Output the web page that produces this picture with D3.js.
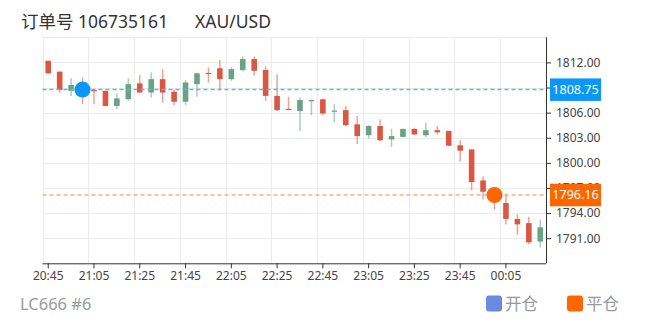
<!DOCTYPE html>
<html><head><meta charset="utf-8">
<script src="https://cdn.jsdelivr.net/npm/d3@7"></script>
<style>body{margin:0;background:#fff}svg{display:block}</style>
</head><body>
<svg id="c" width="652" height="325"></svg>
<script>
const categories = ["20:45","20:50","20:55","21:00","21:05","21:10","21:15","21:20","21:25","21:30","21:35","21:40","21:45","21:50","21:55","22:00","22:05","22:10","22:15","22:20","22:25","22:30","22:35","22:40","22:45","22:50","22:55","23:00","23:05","23:10","23:15","23:20","23:25","23:30","23:35","23:40","23:45","23:50","23:55","00:00","00:05","00:10","00:15","00:20"];
const opens  = [1812.2,1810.9,1808.6,1809.3,1808.7,1808.6,1806.8,1807.6,1809.5,1808.4,1810.0,1808.5,1807.3,1809.4,1810.75,1811.3,1810.0,1811.1,1812.4,1811.1,1808.0,1806.45,1806.2,1807.4,1807.6,1806.2,1806.3,1804.6,1803.3,1804.4,1802.8,1803.1,1804.05,1803.3,1803.9,1803.8,1802.1,1801.6,1797.9,1796.5,1795.2,1793.3,1792.8,1790.6];
const closes = [1810.7,1808.7,1809.3,1808.5,1808.55,1806.8,1807.7,1809.4,1808.4,1810.0,1808.4,1807.3,1809.6,1810.7,1810.65,1810.0,1811.2,1812.4,1811.0,1808.0,1806.3,1806.35,1807.5,1807.5,1805.9,1806.25,1804.5,1803.2,1804.4,1802.7,1803.2,1804.05,1803.4,1803.9,1803.65,1802.05,1801.45,1797.7,1796.55,1795.9,1793.3,1792.65,1790.5,1792.3];
const highs  = [1812.2,1810.9,1810.1,1810.2,1808.75,1808.65,1808.3,1810.1,1810.5,1810.8,1811.2,1808.8,1809.9,1810.75,1811.4,1812.3,1811.4,1812.7,1812.7,1811.5,1810.6,1807.9,1807.8,1807.6,1807.7,1807.0,1806.8,1805.6,1804.5,1805.2,1804.05,1804.1,1804.2,1804.8,1804.4,1803.85,1802.7,1801.65,1798.4,1797.0,1796.35,1793.85,1793.55,1793.2];
const lows   = [1810.6,1808.4,1808.0,1807.0,1807.0,1806.8,1806.4,1807.4,1808.4,1807.8,1807.2,1806.9,1806.9,1807.9,1809.6,1808.65,1809.8,1810.9,1810.4,1807.4,1806.2,1806.3,1803.8,1805.7,1805.7,1804.85,1804.4,1802.25,1802.9,1802.6,1801.9,1803.05,1803.3,1803.1,1803.4,1802.0,1800.15,1796.7,1795.65,1794.4,1792.65,1791.4,1790.3,1789.9];
const yTicks = [1791,1794,1797,1800,1803,1806,1809,1812];
const yLabelTicks = [1791,1794,1797,1800,1803,1806,1812];
const xLabels = ["20:45","21:05","21:25","21:45","22:05","22:25","22:45","23:05","23:25","23:45","00:05"];
const openTrade = {time:"21:00", price:1808.75};
const closeTrade = {time:"00:00", price:1796.16};
const titleOrder = "订单号 106735161";
const titleSymbol = "XAU/USD";
const footer = "LC666 #6";
const legendItems = ["开仓","平仓"];

const svg = d3.select("#c");
const L = 42.5, R = 546, T = 37.3, B = 263.3;
const x = d3.scaleBand().domain(categories).range([L, R]).padding(0);
const y = d3.scaleLinear().domain([1788, 1815]).range([B, T]);
const bw = x.bandwidth();
const cx = d => x(d) + bw/2;
const font = "'Noto Sans','Noto Sans CJK SC',sans-serif";

// grid
const g = svg.append("g");
g.selectAll("line.h").data(yTicks.concat([1815])).join("line")
  .attr("x1", L).attr("x2", R).attr("y1", d=>Math.round(y(d))+0.5).attr("y2", d=>Math.round(y(d))+0.5)
  .attr("stroke", "#ebebeb").attr("stroke-width", 1);
const vb = d3.range(0, 44, 4);
g.selectAll("line.v").data(vb).join("line")
  .attr("x1", i=>Math.round(L + i*bw)+0.5).attr("x2", i=>Math.round(L + i*bw)+0.5)
  .attr("y1", T).attr("y2", B).attr("stroke", "#ebebeb");

// axes
const yAxis = d3.axisRight(y).tickValues(yTicks).tickSize(5).tickPadding(5)
  .tickFormat(d => yLabelTicks.includes(d) ? d3.format(".2f")(d) : "");
const ya = svg.append("g").attr("transform", `translate(${R},0)`).call(yAxis);
ya.select(".domain").attr("stroke", "#333").attr("d", `M0.5,${T}V${B}`);
ya.selectAll(".tick line").attr("stroke", "#333");
ya.selectAll(".tick text").attr("fill", "#444").style("font", `12px ${font}`);

const xAxis = d3.axisBottom(x).tickValues(xLabels).tickSize(5).tickPadding(3);
const xa = svg.append("g").attr("transform", `translate(0,${B})`).call(xAxis);
xa.select(".domain").attr("stroke", "#333").attr("d", `M${L},0.5H${R}`);
xa.selectAll(".tick line").attr("stroke", "#333");
xa.selectAll(".tick text").attr("fill", "#444").style("font", `12px ${font}`);

// candles
const up = "#6aa284", down = "#da5744";
const idx = d3.range(categories.length);
const cg = svg.append("g");
cg.selectAll("line.w").data(idx).join("line")
  .attr("x1", i=>cx(categories[i])).attr("x2", i=>cx(categories[i]))
  .attr("y1", i=>y(highs[i])).attr("y2", i=>y(lows[i]))
  .attr("stroke", i=>closes[i]>=opens[i]?up:down).attr("stroke-opacity", 0.55).attr("stroke-width", 1.5);
const bodyW = 5.6;
cg.selectAll("rect.b").data(idx).join("rect")
  .attr("x", i=>cx(categories[i]) - bodyW/2).attr("width", bodyW)
  .attr("y", i=>y(Math.max(opens[i], closes[i])))
  .attr("height", i=>Math.max(1.2, Math.abs(y(opens[i]) - y(closes[i]))))
  .attr("fill", i=>closes[i]>=opens[i]?up:down);

// trade lines
function trade(t, col, lineCol) {
  const yy = y(t.price);
  svg.append("line").attr("x1", L).attr("x2", R).attr("y1", yy).attr("y2", yy)
    .attr("stroke", lineCol).attr("stroke-width", 1.5).attr("stroke-dasharray", "4,3");
  svg.append("circle").attr("cx", cx(t.time)).attr("cy", yy).attr("r", 8).attr("fill", col);
  svg.append("rect").attr("x", 550).attr("y", yy - 11.2).attr("width", 51).attr("height", 22.5).attr("fill", col);
  svg.append("text").attr("x", 575.5).attr("y", yy).attr("dy", "0.36em").attr("text-anchor", "middle")
    .attr("fill", "#fff").style("font", `12.5px ${font}`).text(t.price.toFixed(2));
}
trade(openTrade, "#0a97f7", "#5db4f5");
trade(closeTrade, "#ff6600", "#ffab78");

// title
svg.append("text").attr("x", 21).attr("y", 28).attr("fill", "#333").style("font", `17.5px ${font}`).text(titleOrder);
svg.append("text").attr("x", 195).attr("y", 28).attr("fill", "#333").style("font", `17.5px ${font}`).text(titleSymbol);

// footer
svg.append("text").attr("x", 20).attr("y", 310).attr("fill", "#999").style("font", `16.5px ${font}`).text(footer);
const legCols = ["#6a89df", "#ff6600"];
const legX = [486, 567];
legendItems.forEach((t, i) => {
  svg.append("rect").attr("x", legX[i]).attr("y", 295.5).attr("width", 16).attr("height", 16).attr("rx", 3).attr("fill", legCols[i]);
  svg.append("text").attr("x", legX[i] + 19).attr("y", 310).attr("fill", "#999").style("font", `16.5px ${font}`).text(t);
});
</script>
</body></html>
